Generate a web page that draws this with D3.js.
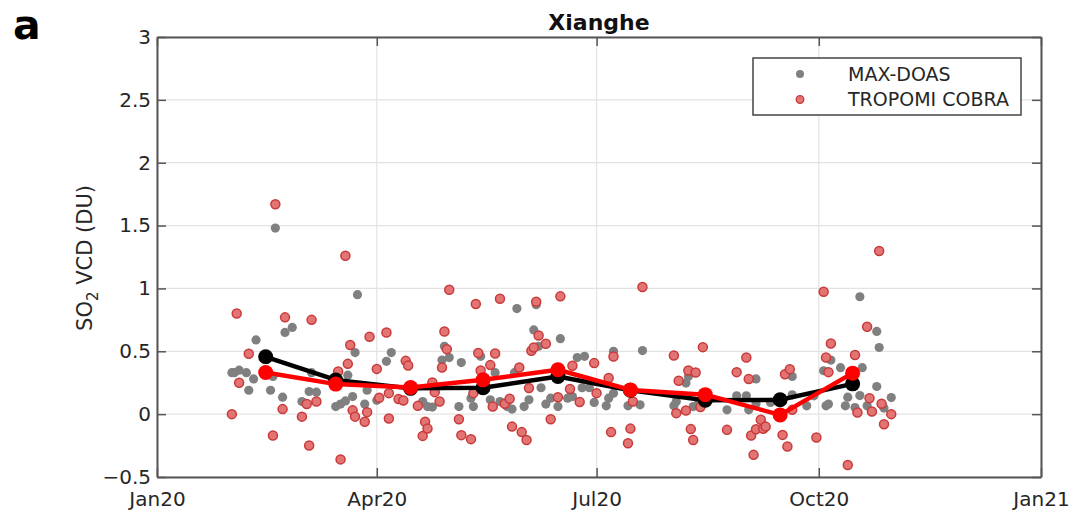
<!DOCTYPE html>
<html>
<head>
<meta charset="utf-8">
<script src="https://cdn.jsdelivr.net/npm/d3@7"></script>
<style>
  html, body { margin: 0; padding: 0; background: #fff; }
  svg { display: block; font-family: "DejaVu Sans", sans-serif; }
</style>
</head>
<body>
<svg id="chart" width="1074" height="512"></svg>
<script>
// MAX-DOAS SO2 vertical column densities (DU), individual days
const doasDates = [
  "2020-02-01","2020-02-02","2020-02-04","2020-02-07","2020-02-08","2020-02-10","2020-02-11","2020-02-17",
  "2020-02-18","2020-02-19","2020-02-22","2020-02-23","2020-02-26","2020-03-01","2020-03-04","2020-03-05",
  "2020-03-07","2020-03-15","2020-03-17","2020-03-19","2020-03-20","2020-03-22","2020-03-23","2020-03-24",
  "2020-03-27","2020-03-28","2020-04-01","2020-04-05","2020-04-07","2020-04-20","2020-04-22","2020-04-24",
  "2020-04-28","2020-04-29","2020-05-01","2020-05-05","2020-05-06","2020-05-10","2020-05-11","2020-05-14",
  "2020-05-18","2020-05-20","2020-05-22","2020-05-25","2020-05-27","2020-05-28","2020-05-29","2020-06-01",
  "2020-06-03","2020-06-05","2020-06-06","2020-06-07","2020-06-08","2020-06-10","2020-06-12","2020-06-15",
  "2020-06-16","2020-06-19","2020-06-21","2020-06-23","2020-06-25","2020-06-26","2020-06-28","2020-06-30",
  "2020-07-05","2020-07-06","2020-07-08","2020-07-08","2020-07-14","2020-07-19","2020-07-20","2020-08-02",
  "2020-08-03","2020-08-07","2020-08-08","2020-08-10","2020-08-12","2020-08-24","2020-08-28","2020-09-01",
  "2020-09-02","2020-09-05","2020-09-05","2020-09-11","2020-09-20","2020-09-20","2020-09-26","2020-09-29",
  "2020-10-03","2020-10-04","2020-10-05","2020-10-06","2020-10-10","2020-10-12","2020-10-13","2020-10-16",
  "2020-10-18","2020-10-18","2020-10-19","2020-10-21","2020-10-25","2020-10-25","2020-10-26","2020-10-28",
  "2020-10-31"
];
const doasValues = [
  0.33, 0.33, 0.35, 0.33, 0.19, 0.28, 0.59, 0.19,
  0.30, 1.48, 0.135, 0.65, 0.69, 0.10, 0.18, 0.33,
  0.175, 0.06, 0.08, 0.105, 0.31, 0.14, 0.49, 0.95,
  0.08, 0.19, 0.11, 0.42, 0.49, 0.10, 0.06, 0.056,
  0.43, 0.54, 0.45, 0.06, 0.41, 0.127, 0.06, 0.46,
  0.114, 0.33, 0.10, 0.06, 0.04, 0.33, 0.84, 0.06,
  0.114, 0.67, 0.87, 0.54, 0.21, 0.08, 0.127, 0.06,
  0.60, 0.127, 0.14, 0.45, 0.21, 0.46, 0.21, 0.093,
  0.066, 0.127, 0.167, 0.50, 0.066, 0.074, 0.506, 0.066,
  0.10, 0.247, 0.30, 0.06, 0.08, 0.034, 0.146, 0.146,
  0.034, 0.082, 0.28, 0.093, 0.30, 0.154, 0.066, 0.146,
  0.345, 0.066, 0.08, 0.43, 0.37, 0.066, 0.135, 0.053,
  0.148, 0.934, 0.37, 0.066, 0.22, 0.658, 0.53, 0.048,
  0.132
];

// TROPOMI COBRA SO2 vertical column densities (DU), individual days
const cobraDates = [
  "2020-02-01","2020-02-03","2020-02-04","2020-02-08","2020-02-18","2020-02-19","2020-02-22","2020-02-23",
  "2020-03-01","2020-03-03","2020-03-04","2020-03-05","2020-03-07","2020-03-16","2020-03-17","2020-03-19",
  "2020-03-20","2020-03-21","2020-03-22","2020-03-23","2020-03-27","2020-03-28","2020-03-29","2020-04-01",
  "2020-04-02","2020-04-05","2020-04-06","2020-04-06","2020-04-10","2020-04-12","2020-04-13","2020-04-14",
  "2020-04-18","2020-04-20","2020-04-21","2020-04-22","2020-04-24","2020-04-25","2020-04-27","2020-04-28",
  "2020-04-29","2020-04-30","2020-05-01","2020-05-05","2020-05-06","2020-05-10","2020-05-11","2020-05-12",
  "2020-05-13","2020-05-14","2020-05-18","2020-05-19","2020-05-20","2020-05-22","2020-05-24","2020-05-26",
  "2020-05-27","2020-05-30","2020-05-31","2020-06-02","2020-06-03","2020-06-04","2020-06-05","2020-06-06",
  "2020-06-07","2020-06-10","2020-06-12","2020-06-15","2020-06-16","2020-06-20","2020-06-21","2020-06-24",
  "2020-06-30","2020-07-01","2020-07-06","2020-07-07","2020-07-08","2020-07-14","2020-07-15","2020-07-16",
  "2020-07-20","2020-08-02","2020-08-03","2020-08-04","2020-08-07","2020-08-08","2020-08-09","2020-08-10",
  "2020-08-11","2020-08-13","2020-08-14","2020-08-24","2020-08-28","2020-09-01","2020-09-02","2020-09-03",
  "2020-09-04","2020-09-05","2020-09-07","2020-09-08","2020-09-09","2020-09-16","2020-09-17","2020-09-18",
  "2020-09-19","2020-09-20","2020-09-30","2020-10-03","2020-10-04","2020-10-05","2020-10-06","2020-10-13",
  "2020-10-16","2020-10-17","2020-10-21","2020-10-22","2020-10-23","2020-10-26","2020-10-27","2020-10-28",
  "2020-10-31"
];
const cobraValues = [
  0.00, 0.80, 0.25, 0.48, -0.17, 1.67, 0.04, 0.77,
  -0.02, 0.08, -0.25, 0.75, 0.10, 0.34, -0.36, 1.26,
  0.40, 0.55, 0.03, -0.02, -0.06, 0.016, 0.615, 0.36,
  0.13, 0.65, -0.035, 0.167, 0.12, 0.108, 0.424, 0.387,
  0.066, -0.173, -0.061, -0.115, 0.252, 0.175, 0.10, 0.371,
  0.658, 0.517, 0.99, -0.04, -0.167, -0.199, 0.167, 0.876,
  0.486, 0.347, 0.39, 0.06, 0.483, 0.918, 0.082, 0.122,
  -0.099, 0.371, -0.143, -0.205, 0.207, 0.504, 0.53, 0.894,
  0.626, 0.56, -0.04, 0.135, 0.937, 0.20, 0.385, 0.096,
  0.406, 0.167, 0.287, -0.143, 0.459, -0.231, -0.115, 0.10,
  1.011, 0.467, 0.008, 0.265, 0.029, 0.347, -0.119, -0.205,
  0.331, 0.056, 0.533, -0.125, 0.334, 0.45, 0.279, -0.17,
  -0.324, -0.12, -0.045, -0.117, -0.099, -0.165, 0.318, -0.258,
  0.358, 0.034, -0.186, 0.974, 0.45, 0.334, 0.562, -0.404,
  0.47, 0.013, 0.695, 0.127, 0.021, 1.298, 0.082, -0.08,
  0.0
];

// Monthly means (plotted mid-month)
const monthDates = ["2020-02-15","2020-03-15","2020-04-15","2020-05-15","2020-06-15",
                    "2020-07-15","2020-08-15","2020-09-15","2020-10-15"];
const doasMonthly  = [0.456, 0.272, 0.205, 0.210, 0.300, 0.190, 0.110, 0.114, 0.241];
const cobraMonthly = [0.331, 0.239, 0.212, 0.273, 0.353, 0.193, 0.155, -0.006, 0.326];

// Axis ticks
const yTicks = [-0.5, 0, 0.5, 1, 1.5, 2, 2.5, 3];
const xTickDates = ["2020-01-01","2020-04-01","2020-07-01","2020-10-01","2021-01-01"];
const xTickLabels = ["Jan20","Apr20","Jul20","Oct20","Jan21"];

const parse = d3.timeParse("%Y-%m-%d");
const svg = d3.select("#chart");

const plotLeft = 157, plotRight = 1041, plotTop = 37, plotBottom = 477;
const x = d3.scaleTime().domain([parse("2020-01-01"), parse("2021-01-01")]).range([plotLeft, plotRight]);
const y = d3.scaleLinear().domain([-0.5, 3]).range([plotBottom, plotTop]);

const textColor = "#262626";
const axisColor = "#555";

// Grid
const grid = svg.append("g");
grid.selectAll("line.gy").data(yTicks).join("line")
  .attr("x1", plotLeft).attr("x2", plotRight)
  .attr("y1", d => y(d)).attr("y2", d => y(d))
  .attr("stroke", "#e3e3e3").attr("stroke-width", 1.2);
grid.selectAll("line.gx").data(xTickDates).join("line")
  .attr("x1", d => x(parse(d))).attr("x2", d => x(parse(d)))
  .attr("y1", plotTop).attr("y2", plotBottom)
  .attr("stroke", "#e3e3e3").attr("stroke-width", 1.2);

// Axes (ticks point inward, box all around)
const tickLen = 9;
const xTickVals = xTickDates.map(parse);
function styleAxis(g) {
  g.selectAll(".domain").attr("stroke", axisColor).attr("stroke-width", 2);
  g.selectAll(".tick line").attr("stroke", axisColor).attr("stroke-width", 1.5);
  g.selectAll(".tick text").attr("fill", textColor)
    .style("font-family", "DejaVu Sans").style("font-size", "20px");
}
svg.append("g").attr("transform", `translate(0,${plotBottom})`)
  .call(d3.axisBottom(x).tickValues(xTickVals).tickSizeInner(-tickLen).tickSizeOuter(0)
    .tickPadding(tickLen + 6).tickFormat((d, i) => xTickLabels[i]))
  .call(styleAxis);
svg.append("g").attr("transform", `translate(0,${plotTop})`)
  .call(d3.axisTop(x).tickValues(xTickVals).tickSizeInner(-tickLen).tickSizeOuter(0).tickFormat(""))
  .call(styleAxis);
svg.append("g").attr("transform", `translate(${plotLeft},0)`)
  .call(d3.axisLeft(y).tickValues(yTicks).tickSizeInner(-tickLen).tickSizeOuter(0)
    .tickPadding(6).tickFormat(d3.format("")))
  .call(styleAxis);
svg.append("g").attr("transform", `translate(${plotRight},0)`)
  .call(d3.axisRight(y).tickValues(yTicks).tickSizeInner(-tickLen).tickSizeOuter(0).tickFormat(""))
  .call(styleAxis);

// Daily points
const doasPts = doasDates.map((d, i) => ({ t: parse(d), v: doasValues[i] }));
const cobraPts = cobraDates.map((d, i) => ({ t: parse(d), v: cobraValues[i] }));

svg.append("g").selectAll("circle").data(doasPts).join("circle")
  .attr("cx", d => x(d.t)).attr("cy", d => y(d.v)).attr("r", 4.6)
  .attr("fill", "#808080");
svg.append("g").selectAll("circle").data(cobraPts).join("circle")
  .attr("cx", d => x(d.t)).attr("cy", d => y(d.v)).attr("r", 4.5)
  .attr("fill", "#e37474").attr("stroke", "#c93a3a").attr("stroke-width", 1.5);

// Monthly mean lines
const line = d3.line().x(d => x(d.t)).y(d => y(d.v));
function meanSeries(vals, color) {
  const pts = monthDates.map((d, i) => ({ t: parse(d), v: vals[i] }));
  const g = svg.append("g");
  g.append("path").datum(pts).attr("d", line)
    .attr("fill", "none").attr("stroke", color).attr("stroke-width", 4.5)
    .attr("stroke-linejoin", "round");
  g.selectAll("circle").data(pts).join("circle")
    .attr("cx", d => x(d.t)).attr("cy", d => y(d.v)).attr("r", 7.5)
    .attr("fill", color);
}
meanSeries(doasMonthly, "#000000");
meanSeries(cobraMonthly, "#ff0000");

// Title and panel letter
svg.append("text").attr("x", (plotLeft + plotRight) / 2).attr("y", 30)
  .attr("text-anchor", "middle").attr("font-weight", "bold")
  .style("font-size", "22px").attr("fill", "#111").text("Xianghe");
svg.append("text").attr("x", 13).attr("y", 38.5)
  .attr("font-weight", "bold").style("font-size", "41px").attr("fill", "#000").text("a");

// Y axis label
const yl = svg.append("text")
  .attr("transform", `translate(92,258) rotate(-90)`)
  .attr("text-anchor", "middle").attr("fill", textColor).style("font-size", "21px");
yl.append("tspan").text("SO");
yl.append("tspan").attr("dy", 6).style("font-size", "15px").text("2");
yl.append("tspan").attr("dy", -6).text(" VCD (DU)");

// Legend
const lg = svg.append("g");
lg.append("rect").attr("x", 753).attr("y", 58).attr("width", 268).attr("height", 57)
  .attr("fill", "#fff").attr("stroke", "#444").attr("stroke-width", 1.5);
lg.append("circle").attr("cx", 800).attr("cy", 74).attr("r", 4).attr("fill", "#808080");
lg.append("circle").attr("cx", 800).attr("cy", 99.5).attr("r", 3.8)
  .attr("fill", "#e37474").attr("stroke", "#c93a3a").attr("stroke-width", 1.3);
lg.append("text").attr("x", 848).attr("y", 81).attr("fill", textColor)
  .style("font-size", "19px").text("MAX-DOAS");
lg.append("text").attr("x", 848).attr("y", 106).attr("fill", textColor)
  .style("font-size", "19px").text("TROPOMI COBRA");
</script>
</body>
</html>
